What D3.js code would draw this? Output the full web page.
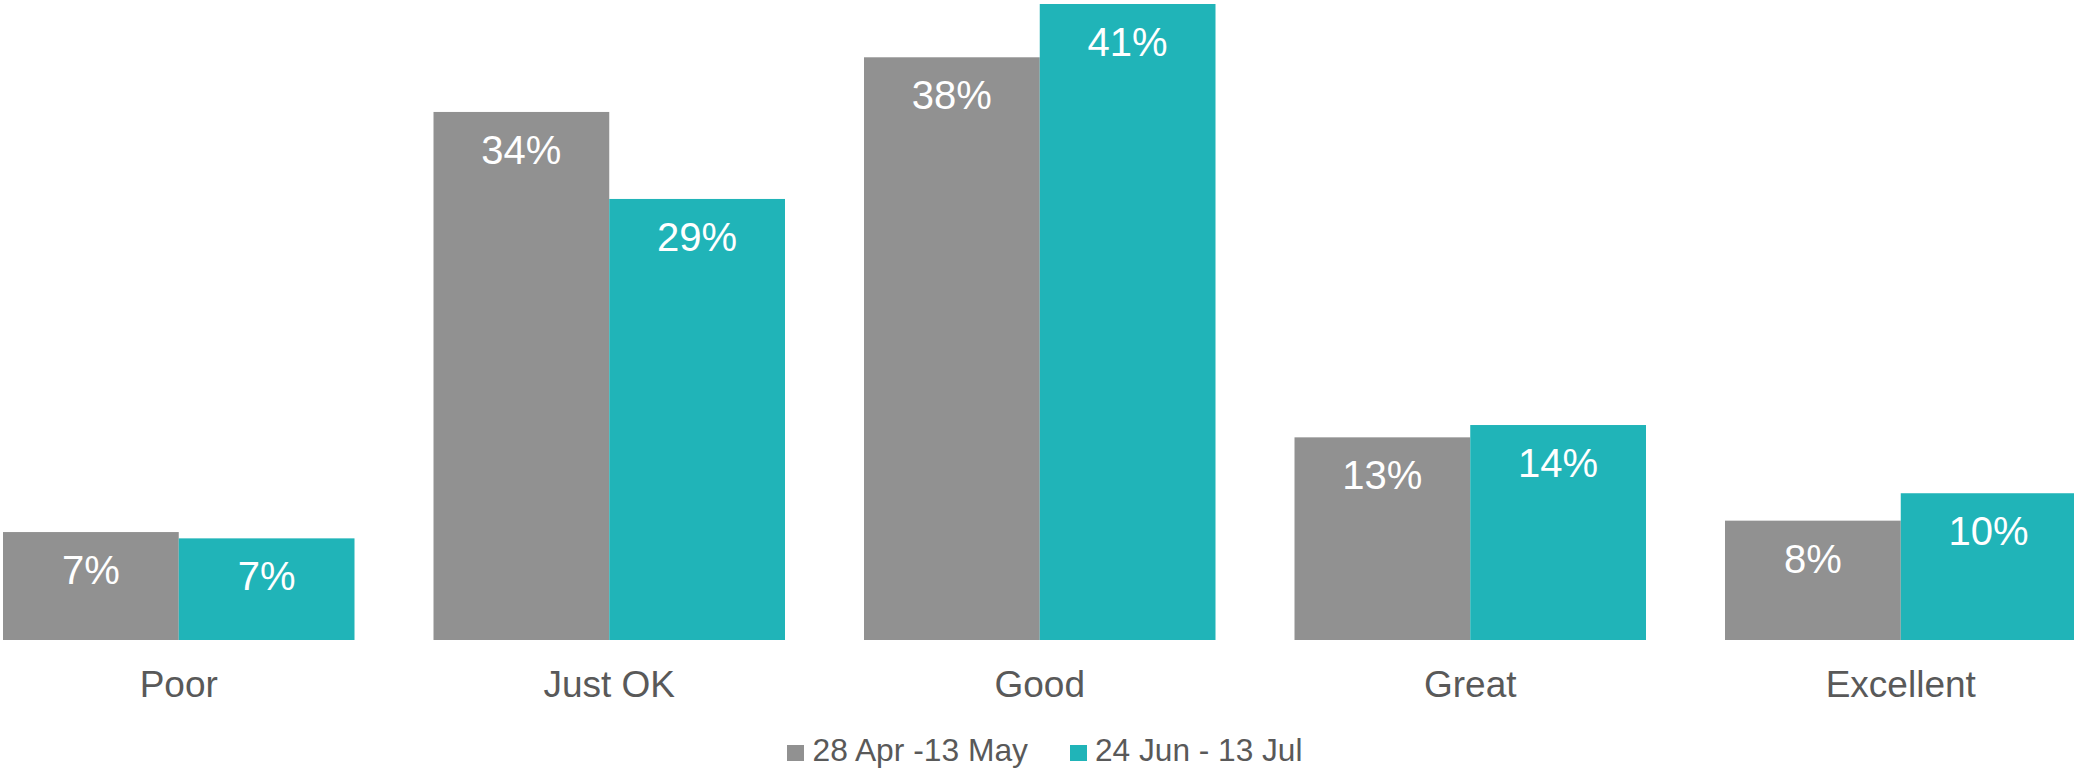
<!DOCTYPE html>
<html>
<head>
<meta charset="utf-8">
<script src="https://cdn.jsdelivr.net/npm/d3@7"></script>
<style>
  html, body { margin: 0; padding: 0; background: #ffffff; }
  svg { display: block; font-family: "Liberation Sans", Arial, sans-serif; }
</style>
</head>
<body>
<svg id="chart" width="2074" height="771"></svg>
<script>
// Survey ratings, share of respondents per period
const categories = ["Poor", "Just OK", "Good", "Great", "Excellent"];
const seriesNames = ["28 Apr -13 May", "24 Jun - 13 Jul"];
const period1Values = [0.0701, 0.3429, 0.3784, 0.1316, 0.0775];
const period2Values = [0.0660, 0.2864, 0.4130, 0.1396, 0.0953];
const seriesColors = ["#919191", "#20B4B8"];

const series = [
  { name: seriesNames[0], values: period1Values, color: seriesColors[0] },
  { name: seriesNames[1], values: period2Values, color: seriesColors[1] }
];

const svg = d3.select("#chart");
const baseline = 640;

// Category bands (gap between groups is 45% of a bar width)
const x0 = d3.scaleBand()
  .domain(categories)
  .range([-36.5, 2116])
  .paddingInner(0.1835)
  .paddingOuter(0.09175);

const x1 = d3.scaleBand()
  .domain(d3.range(series.length))
  .range([0, x0.bandwidth()])
  .padding(0);

const y = d3.scaleLinear()
  .domain([0, 0.4156])
  .range([baseline, 0]);

const pct = d3.format(".0%");

const groups = svg.append("g").selectAll("g")
  .data(categories)
  .join("g")
  .attr("transform", d => `translate(${x0(d)},0)`);

const cells = groups.selectAll("g.cell")
  .data((c, i) => series.map((s, si) => ({ si, value: s.values[i], color: s.color })))
  .join("g")
  .attr("class", "cell");

cells.append("rect")
  .attr("x", d => x1(d.si))
  .attr("y", d => y(d.value))
  .attr("width", x1.bandwidth())
  .attr("height", d => baseline - y(d.value))
  .attr("fill", d => d.color);

cells.append("text")
  .attr("x", d => x1(d.si) + x1.bandwidth() / 2)
  .attr("y", d => y(d.value) + 52)
  .attr("text-anchor", "middle")
  .attr("font-size", 40)
  .attr("fill", "#ffffff")
  .text(d => pct(d.value));

// Category axis labels
const xAxis = d3.axisBottom(x0).tickSize(0).tickPadding(0);
const axisG = svg.append("g")
  .attr("transform", `translate(0,${baseline})`)
  .call(xAxis);
axisG.select(".domain").remove();
axisG.selectAll(".tick text")
  .attr("y", 57)
  .attr("dy", null)
  .attr("font-size", 37)
  .attr("font-family", "\"Liberation Sans\", Arial, sans-serif")
  .attr("fill", "#595959");

// Legend
const legendItems = [
  { swatchX: 787, textX: 812.5, textLen: 215.5 },
  { swatchX: 1070, textX: 1095, textLen: 207.5 }
];
const legend = svg.append("g");
series.forEach((s, i) => {
  const li = legendItems[i];
  legend.append("rect")
    .attr("x", li.swatchX)
    .attr("y", 745)
    .attr("width", 17)
    .attr("height", 16)
    .attr("fill", s.color);
  legend.append("text")
    .attr("x", li.textX)
    .attr("y", 761)
    .attr("font-size", 31.5)
    .attr("fill", "#595959")
    .attr("textLength", li.textLen)
    .attr("lengthAdjust", "spacingAndGlyphs")
    .text(s.name);
});
</script>
</body>
</html>
